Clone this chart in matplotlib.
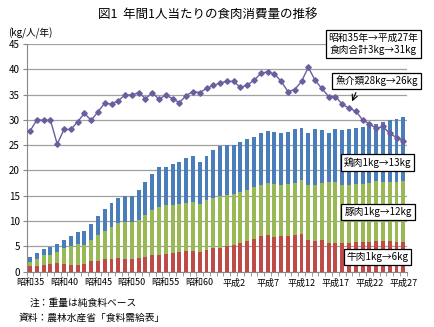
import numpy as np
import matplotlib
matplotlib.use("Agg")
import matplotlib.pyplot as plt

plt.rcParams['font.family'] = ['Noto Sans CJK JP', 'DejaVu Sans']

# 昭和35 (1960) .. 平成27 (2015)
years = list(range(1960, 2016))
tick_labels = ['昭和35', '昭和40', '昭和45', '昭和50', '昭和55', '昭和60',
               '平成2', '平成7', '平成12', '平成17', '平成22', '平成27']

# kg/人/年
beef = [1.1, 1.1, 1.2, 1.5, 1.6, 1.5, 1.2, 1.3, 1.5, 2.0,
        2.1, 2.5, 2.5, 2.6, 2.5, 2.5, 2.6, 2.9, 3.2, 3.3,
        3.5, 3.6, 3.8, 4.0, 4.1, 3.9, 4.2, 4.6, 4.7, 5.0,
        5.2, 5.6, 6.0, 6.5, 7.1, 7.3, 6.8, 7.0, 7.1, 7.2,
        7.5, 6.2, 6.1, 6.2, 5.6, 5.6, 5.6, 5.7, 5.8, 5.9,
        5.9, 6.0, 6.0, 6.0, 5.9, 5.8]
pork = [0.8, 1.4, 2.0, 1.7, 2.3, 3.1, 3.9, 4.1, 3.8, 4.2,
        5.1, 5.6, 6.3, 6.9, 7.3, 7.3, 7.5, 8.2, 8.9, 9.5,
        9.6, 9.6, 9.5, 9.5, 9.7, 9.5, 9.9, 10.0, 10.3, 10.1,
        10.2, 10.1, 10.2, 10.2, 10.0, 10.2, 10.5, 10.2, 10.2, 10.3,
        10.6, 10.9, 11.0, 11.4, 12.1, 12.1, 11.6, 11.5, 11.5, 11.5,
        11.7, 11.9, 11.8, 11.8, 11.8, 12.2]
chicken = [1.0, 1.1, 1.3, 1.6, 1.6, 1.7, 2.0, 2.5, 2.8, 3.1,
           3.8, 4.2, 4.8, 5.0, 5.1, 5.1, 6.0, 6.6, 7.1, 7.8,
           7.6, 8.0, 8.4, 8.9, 9.0, 8.2, 8.8, 9.4, 9.9, 9.9,
           9.7, 9.9, 10.1, 9.9, 10.2, 10.3, 10.3, 10.2, 10.3, 10.6,
           10.3, 10.3, 11.0, 10.4, 9.6, 10.4, 10.8, 10.9, 11.1, 11.1,
           11.4, 11.3, 11.8, 12.1, 12.5, 12.6]
fish = [27.8, 30.0, 29.9, 29.9, 25.2, 28.1, 28.1, 29.6, 31.3, 29.9,
        31.6, 33.3, 33.1, 33.8, 34.9, 34.9, 35.4, 34.2, 35.3, 34.1,
        34.9, 34.2, 33.4, 34.8, 35.6, 35.4, 36.2, 36.8, 37.3, 37.6,
        37.6, 36.4, 36.9, 37.8, 39.2, 39.5, 39.1, 37.6, 35.6, 36.0,
        37.6, 40.4, 37.8, 36.2, 34.6, 34.6, 33.1, 32.3, 31.7, 30.0,
        29.2, 28.3, 28.7, 27.3, 26.5, 25.8]

W, H = 434, 327
fig = plt.figure(figsize=(W / 100, H / 100), dpi=100)
ax = fig.add_axes([26.7 / W, 1 - 271.5 / H, 380 / W, 227.5 / H])

x = np.arange(len(years))
beef = np.array(beef)
pork = np.array(pork)
chicken = np.array(chicken)
bw = 0.58
ax.bar(x, beef, bw, color='#BE4B48', zorder=2)
ax.bar(x, pork, bw, bottom=beef, color='#98B954', zorder=2)
ax.bar(x, chicken, bw, bottom=beef + pork, color='#4A7EBB', zorder=2)
ax.plot(x, fish, color='#6B5E9E', lw=1.0, marker='D', ms=2.8, zorder=3)

ax.set_xlim(-0.5, len(years) - 0.5)
ax.set_ylim(0, 45)
ax.set_yticks(range(0, 46, 5))
ax.yaxis.grid(True, color='#A0A0A0', lw=0.9, zorder=0)
ax.set_axisbelow(True)
for s in ['top', 'right']:
    ax.spines[s].set_visible(False)
ax.spines['left'].set_color('#888888')
ax.spines['bottom'].set_color('#888888')
ax.tick_params(axis='y', length=3, color='#888888', labelsize=7, pad=2)

ax.set_xticks(x[::5])
ax.set_xticklabels(tick_labels)
ax.set_xticks(np.arange(-0.5, len(years), 1), minor=True)
ax.tick_params(axis='x', which='major', length=0, labelsize=6.5, pad=5)
ax.tick_params(axis='x', which='minor', length=3, color='#888888')

fig.text(8 / W, 1 - 33 / H, '(kg/人/年)', fontsize=7, va='center', ha='left')
fig.text(208 / W, 1 - 14 / H, '図1  年間1人当たりの食肉消費量の推移', fontsize=9,
         ha='center', va='center')

box = dict(boxstyle='square,pad=0.3', fc='white', ec='black', lw=0.9)
fig.text(373.5 / W, 1 - 44 / H, '昭和35年→平成27年\n食肉合計3kg→31kg', fontsize=7,
         ha='center', va='center', multialignment='center', linespacing=1.3, bbox=box)
fig.text(376.5 / W, 1 - 81 / H, '魚介類28kg→26kg', fontsize=7,
         ha='center', va='center', bbox=box)
fig.text(377.5 / W, 1 - 162.5 / H, '鶏肉1kg→13kg', fontsize=7,
         ha='center', va='center', bbox=box)
fig.text(378 / W, 1 - 212 / H, '豚肉1kg→12kg', fontsize=7,
         ha='center', va='center', bbox=box)
fig.text(377.5 / W, 1 - 257 / H, '牛肉1kg→6kg', fontsize=7,
         ha='center', va='center', bbox=box)

ax.annotate('', xy=(351 / W, 1 - 104 / H), xycoords='figure fraction',
            xytext=(357 / W, 1 - 90 / H), textcoords='figure fraction',
            arrowprops=dict(arrowstyle='->', color='black', lw=0.8))

fig.text(30 / W, 1 - 303 / H, '注：重量は純食料ベース', fontsize=7, va='center')
fig.text(19 / W, 1 - 318 / H, '資料：農林水産省「食料需給表」', fontsize=7, va='center')

fig.savefig('out.png', dpi=100)
